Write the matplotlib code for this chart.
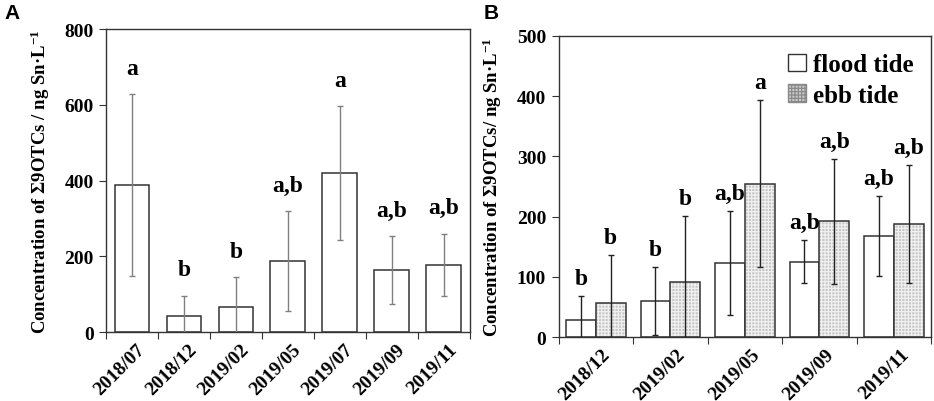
import matplotlib
matplotlib.use("Agg")
from matplotlib import pyplot as plt
from matplotlib.patches import Patch
import numpy as np

# panel A data
months_a = ["2018/07", "2018/12", "2019/02", "2019/05", "2019/07", "2019/09", "2019/11"]
mean_a = [388, 42, 65, 188, 420, 164, 178]
err_a = [240, 54, 80, 132, 177, 89, 82]
letters_a = ["a", "b", "b", "a,b", "a", "a,b", "a,b"]

# panel B data
months_b = ["2018/12", "2019/02", "2019/05", "2019/09", "2019/11"]
flood = [29, 60, 123, 125, 168]
flood_err = [40, 56, 86, 36, 67]
ebb = [57, 91, 255, 192, 188]
ebb_err = [80, 110, 139, 104, 98]
letters_flood = ["b", "b", "a,b", "a,b", "a,b"]
letters_ebb = ["b", "b", "a", "a,b", "a,b"]

plt.rcParams['font.family'] = ['Liberation Serif', 'DejaVu Serif']
plt.rcParams['font.weight'] = 'bold'
plt.rcParams['mathtext.fontset'] = 'custom'
plt.rcParams['mathtext.rm'] = 'Liberation Serif:bold'
plt.rcParams['mathtext.it'] = 'Liberation Serif:bold'
plt.rcParams['mathtext.bf'] = 'Liberation Serif:bold'
plt.rcParams['hatch.linewidth'] = 0.8

edge = '#333333'
fig = plt.figure(figsize=(9.34, 4.02), dpi=100)
axA = fig.add_axes([0.1135, 0.1716, 0.503 - 0.1135, 0.925 - 0.1716])
axB = fig.add_axes([0.598, 0.159, 0.997 - 0.598, 0.908 - 0.159])


def style_axis(ax, n, labels):
    ax.set_xlim(-0.5, n - 0.5)
    ax.set_xticks(np.arange(n + 1) - 0.5)
    ax.set_xticklabels([])
    ax.set_xticks(np.arange(n) + 0.08, minor=True)
    ax.set_xticklabels(labels, minor=True, rotation=45, ha='right',
                       rotation_mode='anchor', fontsize=14, fontweight='bold')
    ax.tick_params(axis='x', which='minor', length=0, pad=6)
    ax.tick_params(axis='x', which='major', direction='out', length=5, color=edge)
    ax.tick_params(axis='y', direction='out', length=5, color=edge, labelsize=14, pad=4)
    for s in ax.spines.values():
        s.set_color(edge)
        s.set_linewidth(1.0)


# ---- panel A
xa = np.arange(len(months_a))
axA.bar(xa, mean_a, width=0.67, facecolor='white', edgecolor=edge, linewidth=1.1, zorder=2)
axA.errorbar(xa, mean_a, yerr=err_a, fmt='none', ecolor='#808080', elinewidth=1.0,
             capsize=2, capthick=1.0, zorder=3)
for x, m, e, t in zip(xa, mean_a, err_a, letters_a):
    axA.annotate(t, (x, m + e), xytext=(0, 11), textcoords='offset points',
                 ha='center', va='bottom', fontsize=17, fontweight='bold')
axA.set_ylim(0, 800)
axA.set_yticks(range(0, 801, 200))
style_axis(axA, len(months_a), months_a)
axA.set_ylabel("Concentration of Σ9OTCs / ng Sn·L$^{-1}$", fontsize=13.5,
               fontweight='bold', labelpad=9)

# ---- panel B
xb = np.arange(len(months_b))
axB.bar(xb - 0.2, flood, width=0.4, facecolor='white', edgecolor=edge, linewidth=1.1, zorder=2)
axB.bar(xb + 0.2, ebb, width=0.4, facecolor='#c8c8c8', edgecolor='#f2f2f2', hatch='+++++',
        linewidth=0, zorder=2)
axB.bar(xb + 0.2, ebb, width=0.4, facecolor='none', edgecolor=edge, linewidth=1.1, zorder=2)
axB.errorbar(xb - 0.2, flood, yerr=flood_err, fmt='none', ecolor='#222222', elinewidth=1.0,
             capsize=2, capthick=1.0, zorder=3)
axB.errorbar(xb + 0.2, ebb, yerr=ebb_err, fmt='none', ecolor='#222222', elinewidth=1.0,
             capsize=2, capthick=1.0, zorder=3)
for x, m, e, t in zip(xb - 0.2, flood, flood_err, letters_flood):
    axB.annotate(t, (x, m + e), xytext=(0, 5), textcoords='offset points',
                 ha='center', va='bottom', fontsize=17, fontweight='bold')
for x, m, e, t in zip(xb + 0.2, ebb, ebb_err, letters_ebb):
    axB.annotate(t, (x, m + e), xytext=(0, 5), textcoords='offset points',
                 ha='center', va='bottom', fontsize=17, fontweight='bold')
axB.set_ylim(0, 500)
axB.set_yticks(range(0, 501, 100))
style_axis(axB, len(months_b), months_b)
axB.set_ylabel("Concentration of Σ9OTCs/ ng Sn·L$^{-1}$", fontsize=13.5,
               fontweight='bold', labelpad=9)

handles = [Patch(facecolor='white', edgecolor=edge, linewidth=1.0),
           Patch(facecolor='#c8c8c8', edgecolor='#888888', hatch='+++++', linewidth=1.0)]
axB.legend(handles, ["flood tide", "ebb tide"], loc='upper right', frameon=False,
           prop={'family': 'Liberation Serif', 'weight': 'bold', 'size': 18},
           handlelength=0.7, handleheight=0.7, handletextpad=0.3, labelspacing=0.3,
           borderaxespad=0.3)

fig.text(0.005, 0.99, "A", fontsize=15, fontweight='bold', family='Liberation Sans',
         va='top', ha='left')
fig.text(0.518, 0.99, "B", fontsize=15, fontweight='bold', family='Liberation Sans',
         va='top', ha='left')

fig.savefig("out.png", dpi=100)
